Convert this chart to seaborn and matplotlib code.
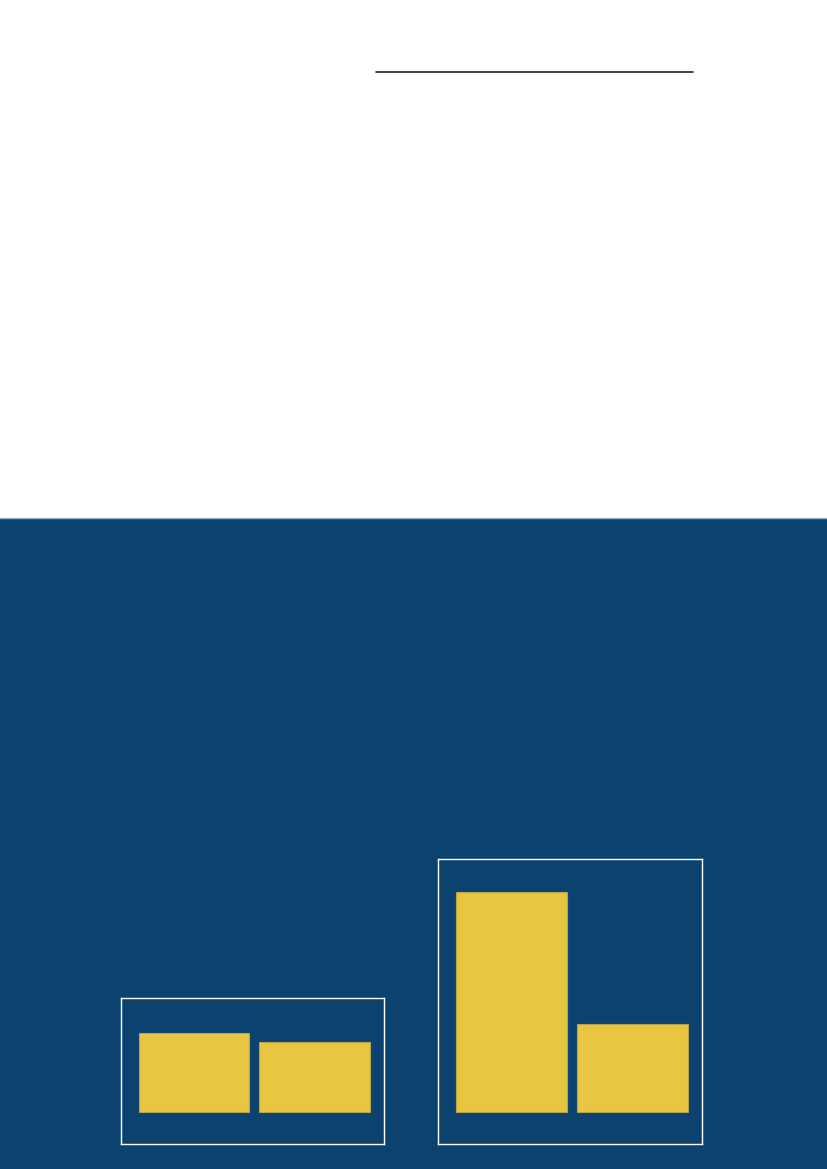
import matplotlib
matplotlib.use("Agg")
import matplotlib.pyplot as plt
import seaborn as sns
import pandas as pd
from matplotlib.patches import Rectangle
from matplotlib.lines import Line2D

# Data (arbitrary units)
left_categories = ["A", "B"]
left_values = [7.9, 7.0]
right_categories = ["A", "B"]
right_values = [22.0, 8.8]

navy = "#0b4270"
gold = "#e8c642"

sns.set_theme(style="white")
plt.rcParams['font.family'] = ['DejaVu Sans']

W, H = 827, 1169
fig = plt.figure(figsize=(W / 100, H / 100), dpi=100, facecolor="white")

# Blue lower panel
fig.patches.append(Rectangle((0, 0), 1, (H - 518) / H, transform=fig.transFigure,
                             facecolor=navy, edgecolor="none", zorder=-5))
fig.add_artist(Line2D([0, 1], [(H - 518) / H] * 2, transform=fig.transFigure,
                      color="#9fb2c6", lw=1.0, zorder=-4))

# Rule at the top
fig.add_artist(Line2D([376 / W, 693 / W], [(H - 72) / H] * 2, transform=fig.transFigure,
                      color="#222222", lw=1.2))


def box_axes(x0, x1, y0, y1):
    ax = fig.add_axes([x0 / W, (H - y1) / H, (x1 - x0) / W, (y1 - y0) / H])
    ax.set_zorder(5)
    return ax


def draw(ax, cats, vals, ylim):
    df = pd.DataFrame({"cat": cats, "val": vals})
    sns.barplot(data=df, x="cat", y="val", ax=ax, color=gold, width=0.92,
                edgecolor="#b5a24a", linewidth=0.8, saturation=1)
    ax.set_facecolor(navy)
    ax.set_xlim(-0.61, 1.58)
    ax.set_ylim(*ylim)
    ax.set_xticks([])
    ax.set_yticks([])
    ax.set_xlabel("")
    ax.set_ylabel("")
    for s in ax.spines.values():
        s.set_visible(True)
        s.set_color("white")
        s.set_linewidth(1.0)


ax1 = box_axes(121, 384, 998, 1144)
draw(ax1, left_categories, left_values, (-3.2, 11.4))

ax2 = box_axes(438, 702, 859, 1144)
draw(ax2, right_categories, right_values, (-3.2, 25.3))

fig.savefig("out.png", dpi=100, facecolor="white")
